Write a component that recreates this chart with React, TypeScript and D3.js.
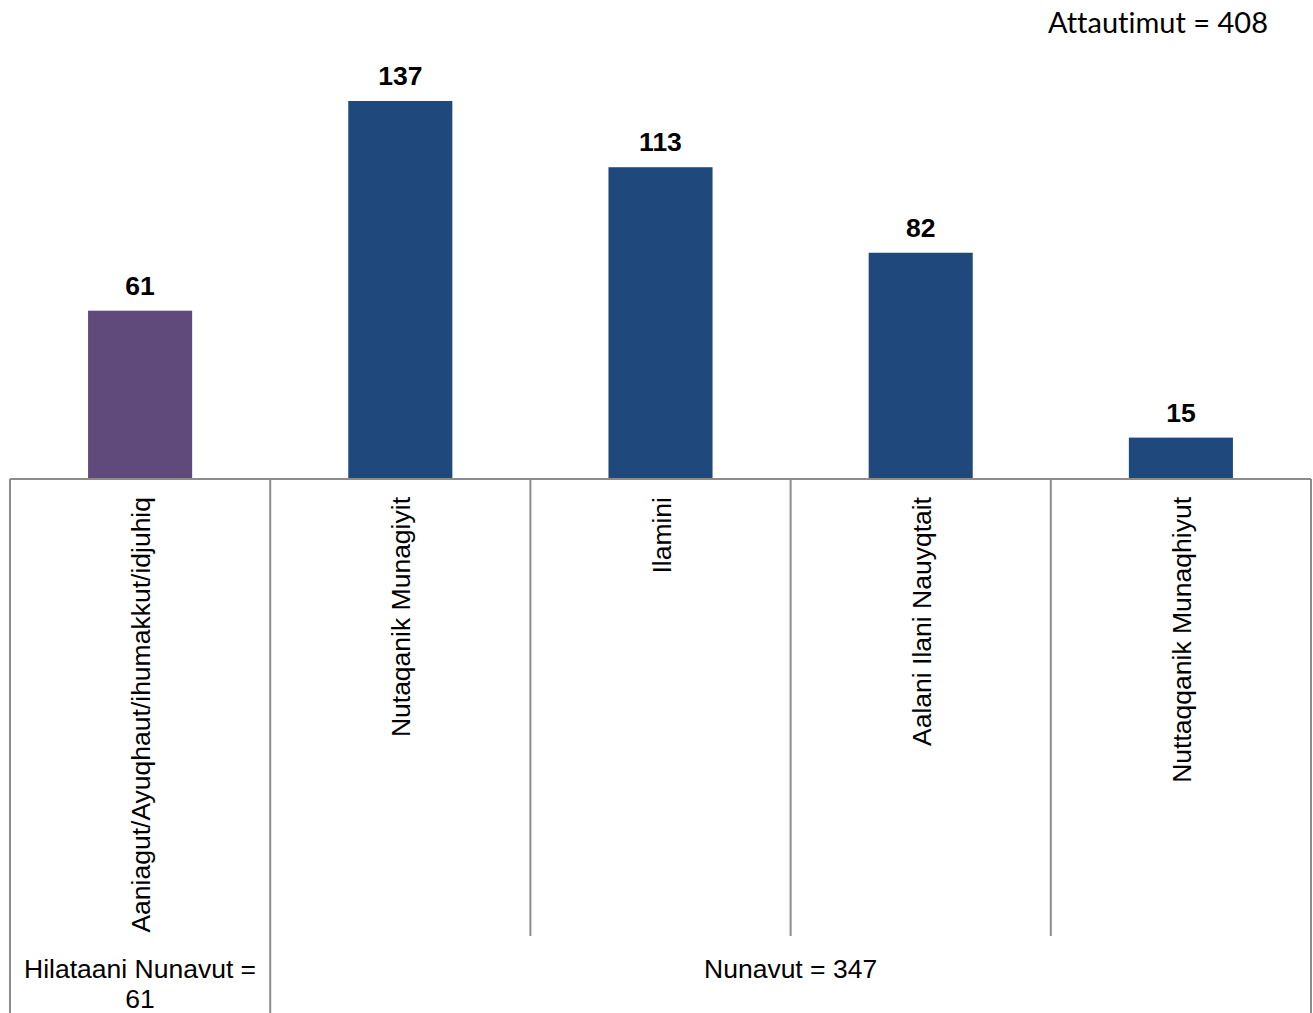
import { useEffect, useRef } from 'react';
import * as d3 from 'd3';

const categories = [
  'Aaniagut/Ayuqhaut/ihumakkut/idjuhiq',
  'Nutaqanik Munagiyit',
  'Ilamini',
  'Aalani Ilani Nauyqtait',
  'Nuttaqqanik Munaqhiyut',
];
const values = [61, 137, 113, 82, 15];
const barColors = ['#604a7b', '#1f497d', '#1f497d', '#1f497d', '#1f497d'];
const groupLabels = [['Hilataani Nunavut =', '61'], ['Nunavut = 347']];
const groupSpans = [[0, 0], [1, 4]];
const totalLabel = 'Attautimut = 408';

export default function App() {
  const svgRef = useRef<SVGSVGElement>(null);

  useEffect(() => {
    document.body.style.margin = '0';
    const width = 1313;
    const height = 1013;
    const left = 10;
    const right = 1311;
    const baseY = 479;
    const lineColor = '#8c8c8c';
    const font = '"Liberation Sans", Arial, sans-serif';
    const fs = 26.5;

    const svg = d3.select(svgRef.current);
    svg.selectAll('*').remove();
    svg.attr('width', width).attr('height', height).attr('viewBox', [0, 0, width, height]);

    const x = d3.scaleBand<string>().domain(categories).range([left, right]).padding(0);
    const xBar = d3
      .scaleBand<string>()
      .domain(categories)
      .range([left, right])
      .paddingInner(0.6)
      .paddingOuter(0.3);
    const y = d3.scaleLinear([0, 137], [baseY, 101]);

    // bars
    svg
      .selectAll('rect.bar')
      .data(values)
      .enter()
      .append('rect')
      .attr('class', 'bar')
      .attr('x', (_, i) => xBar(categories[i])!)
      .attr('width', xBar.bandwidth())
      .attr('y', (d) => y(d))
      .attr('height', (d) => y(0) - y(d))
      .attr('fill', (_, i) => barColors[i]);

    // value labels
    svg
      .selectAll('text.val')
      .data(values)
      .enter()
      .append('text')
      .attr('class', 'val')
      .attr('x', (_, i) => xBar(categories[i])! + xBar.bandwidth() / 2)
      .attr('y', (d) => y(d) - 16)
      .attr('text-anchor', 'middle')
      .attr('font-family', font)
      .attr('font-weight', 'bold')
      .attr('font-size', fs)
      .attr('fill', '#000')
      .text((d) => d);

    // axis line
    svg
      .append('line')
      .attr('x1', left)
      .attr('x2', right)
      .attr('y1', baseY)
      .attr('y2', baseY)
      .attr('stroke', lineColor)
      .attr('stroke-width', 2);

    // category separators
    const bounds = categories.map((c) => x(c)!).concat([right]);
    const outer = new Set<number>([0, categories.length]);
    groupSpans.forEach((s) => {
      outer.add(s[0]);
      outer.add(s[1] + 1);
    });
    svg
      .selectAll('line.sep')
      .data(bounds)
      .enter()
      .append('line')
      .attr('class', 'sep')
      .attr('x1', (d) => d)
      .attr('x2', (d) => d)
      .attr('y1', baseY)
      .attr('y2', (_, i) => (outer.has(i) ? height : 936))
      .attr('stroke', lineColor)
      .attr('stroke-width', 2);

    // rotated category labels
    svg
      .selectAll('text.cat')
      .data(categories)
      .enter()
      .append('text')
      .attr('class', 'cat')
      .attr('transform', (d) => `translate(${x(d)! + x.bandwidth() / 2},497) rotate(-90)`)
      .attr('x', 0)
      .attr('y', 10)
      .attr('text-anchor', 'end')
      .attr('font-family', font)
      .attr('font-size', fs)
      .attr('fill', '#000')
      .text((d) => d);

    // group labels
    groupSpans.forEach((s, gi) => {
      const x0 = x(categories[s[0]])!;
      const x1 = x(categories[s[1]])! + x.bandwidth();
      const t = svg
        .append('text')
        .attr('text-anchor', 'middle')
        .attr('font-family', font)
        .attr('font-size', fs)
        .attr('fill', '#000');
      groupLabels[gi].forEach((line, li) => {
        t.append('tspan')
          .attr('x', (x0 + x1) / 2)
          .attr('y', 978 + li * 30)
          .text(line);
      });
    });

    // total
    svg
      .append('text')
      .attr('x', 1268)
      .attr('y', 33)
      .attr('text-anchor', 'end')
      .attr('font-family', 'Lato, "Open Sans", sans-serif')
      .attr('font-size', 29)
      .style('font-variant-ligatures', 'none')
      .attr('fill', '#000')
      .text(totalLabel);
  }, []);

  return <svg ref={svgRef} style={{ display: 'block' }} />;
}
